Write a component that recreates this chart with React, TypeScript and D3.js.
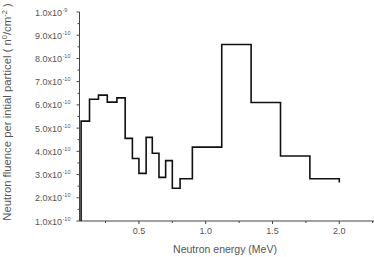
import React from "react";
import * as d3 from "d3";

const binEdges = [0.067, 0.13, 0.197, 0.263, 0.335, 0.397, 0.451, 0.5, 0.554, 0.6, 0.65, 0.7, 0.75, 0.808, 0.9, 1.12, 1.34, 1.56, 1.78, 2.0];
const fluence = [5.3e-10, 6.24e-10, 6.42e-10, 6.12e-10, 6.3e-10, 4.56e-10, 3.69e-10, 3.05e-10, 4.6e-10, 3.92e-10, 2.88e-10, 3.6e-10, 2.41e-10, 2.82e-10, 4.18e-10, 8.6e-10, 6.1e-10, 3.8e-10, 2.82e-10];
const endValue = 2.66e-10;
const xMajorTicks = [0.5, 1.0, 1.5, 2.0];
const xMinorTicks = [0.25, 0.75, 1.25, 1.75, 2.25];
const yTickMant = ["1.0", "2.0", "3.0", "4.0", "5.0", "6.0", "7.0", "8.0", "9.0", "1.0"];
const yTickExp = ["-10", "-10", "-10", "-10", "-10", "-10", "-10", "-10", "-10", "-9"];
const yTickValues = [1e-10, 2e-10, 3e-10, 4e-10, 5e-10, 6e-10, 7e-10, 8e-10, 9e-10, 1e-9];

export default function App() {
  const W = 374, H = 257;
  const x = d3.scaleLinear().domain([0.055, 2.26]).range([79.5, 374]);
  const y = d3.scaleLinear().domain([1e-10, 1e-9]).range([221, 12]);

  const pts: [number, number][] = [[binEdges[0], 1e-10]];
  fluence.forEach((v, i) => pts.push([binEdges[i], v]));
  pts.push([binEdges[binEdges.length - 1], fluence[fluence.length - 1]]);
  pts.push([binEdges[binEdges.length - 1], endValue]);
  const line = d3.line<[number, number]>().x(d => x(d[0])).y(d => y(d[1])).curve(d3.curveStepAfter);

  const yMinor = yTickValues.slice(0, -1).map(v => v + 0.5e-10);
  const axisColor = "#444";
  const textColor = "#555";
  const font = "Liberation Sans, Arial, sans-serif";

  return (
    <svg width={W} height={H} style={{ position: "absolute", left: 0, top: 0 }} fontFamily={font}>
      <rect width={W} height={H} fill="#fff" />
      <line x1={x.range()[0]} x2={x.range()[0]} y1={y(1e-9)} y2={y(1e-10)} stroke={axisColor} strokeWidth={1} />
      <line x1={x.range()[0]} x2={374} y1={y(1e-10)} y2={y(1e-10)} stroke={axisColor} strokeWidth={1} />
      {yTickValues.map((v, i) => (
        <g key={"yt" + i}>
          <line x1={x.range()[0] - 3} x2={x.range()[0]} y1={y(v)} y2={y(v)} stroke={axisColor} />
          <text x={62} y={y(v) + 3.5} fontSize={9} fill={textColor} textAnchor="end">{yTickMant[i]}x10</text>
          <text x={62.5} y={y(v) - 0.5} fontSize={5.5} fill={textColor} textAnchor="start">{yTickExp[i]}</text>
        </g>
      ))}
      {yMinor.map((v, i) => (
        <line key={"ym" + i} x1={x.range()[0] - 2} x2={x.range()[0]} y1={y(v)} y2={y(v)} stroke={axisColor} />
      ))}
      {xMajorTicks.map((v, i) => (
        <g key={"xt" + i}>
          <line x1={x(v)} x2={x(v)} y1={y(1e-10)} y2={y(1e-10) + 3} stroke={axisColor} />
          <text x={x(v)} y={y(1e-10) + 13} fontSize={9} fill={textColor} textAnchor="middle">{v.toFixed(1)}</text>
        </g>
      ))}
      {xMinorTicks.map((v, i) => (
        <line key={"xm" + i} x1={x(v)} x2={x(v)} y1={y(1e-10)} y2={y(1e-10) + 2} stroke={axisColor} />
      ))}
      <path d={line(pts) || ""} fill="none" stroke="#111" strokeWidth={1.6} />
      <text x={225} y={253} fontSize={10.5} fill={textColor} textAnchor="middle">Neutron energy (MeV)</text>
      <text transform="translate(11,112) rotate(-90)" fontSize={11.3} fill={textColor} textAnchor="middle">
        Neutron fluence per intial particel ( n<tspan dy={-4} fontSize={7.5}>0</tspan><tspan dy={4}>/cm</tspan><tspan dy={-4} fontSize={7.5}>-2</tspan><tspan dy={4}> )</tspan>
      </text>
    </svg>
  );
}
